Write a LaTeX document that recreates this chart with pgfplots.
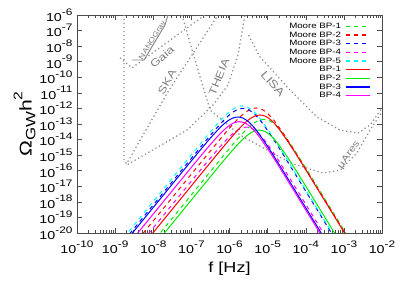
\documentclass[border=0pt]{standalone}
\usepackage{fontspec}
\setmainfont{Liberation Sans}[FakeStretch=1.25]
\usepackage{pgfplots}
\pgfplotsset{compat=1.18}
\definecolor{gcurve}{RGB}{140,140,140}
\definecolor{gtext}{RGB}{125,125,125}
\definecolor{cred}{RGB}{255,0,0}
\definecolor{cgreen}{RGB}{0,235,0}
\definecolor{cblue}{RGB}{0,0,255}
\definecolor{cmag}{RGB}{255,0,255}
\definecolor{ccyan}{RGB}{0,255,255}
\newcommand\ex[1]{10\raisebox{0.55em}{\fontsize{9.5}{9.5}\selectfont #1}}
\begin{document}
\begin{tikzpicture}
\useasboundingbox (-77bp,-48bp) rectangle (325bp,233bp);
\begin{axis}[
  scale only axis, width=305bp, height=218bp, at={(0,0)}, anchor=south west,
  xmin=-10, xmax=-2, ymin=-20, ymax=-6,
  xtick={-10,-9,-8,-7,-6,-5,-4,-3,-2},
  xticklabels={\ex{-10},\ex{-9},\ex{-8},\ex{-7},\ex{-6},\ex{-5},\ex{-4},\ex{-3},\ex{-2}},
  ytick={-20,-19,-18,-17,-16,-15,-14,-13,-12,-11,-10,-9,-8,-7,-6},
  yticklabels={\ex{-20},\ex{-19},\ex{-18},\ex{-17},\ex{-16},\ex{-15},\ex{-14},\ex{-13},\ex{-12},\ex{-11},\ex{-10},\ex{-9},\ex{-8},\ex{-7},\ex{-6}},
  minor xtick={-9.69897,-9.52288,-9.39794,-9.30103,-9.22185,-9.15490,-9.09691,-9.04576,
    -8.69897,-8.52288,-8.39794,-8.30103,-8.22185,-8.15490,-8.09691,-8.04576,
    -7.69897,-7.52288,-7.39794,-7.30103,-7.22185,-7.15490,-7.09691,-7.04576,
    -6.69897,-6.52288,-6.39794,-6.30103,-6.22185,-6.15490,-6.09691,-6.04576,
    -5.69897,-5.52288,-5.39794,-5.30103,-5.22185,-5.15490,-5.09691,-5.04576,
    -4.69897,-4.52288,-4.39794,-4.30103,-4.22185,-4.15490,-4.09691,-4.04576,
    -3.69897,-3.52288,-3.39794,-3.30103,-3.22185,-3.15490,-3.09691,-3.04576,
    -2.69897,-2.52288,-2.39794,-2.30103,-2.22185,-2.15490,-2.09691,-2.04576},
  tick align=inside, major tick length=5bp, minor tick length=3bp,
  axis line style={black!70, line width=0.8pt},
  every tick/.style={black!70, line width=0.5pt},
  ticklabel style={font=\fontsize{11.5}{12}\selectfont},
  xticklabel style={yshift=-4bp},
  yticklabel style={xshift=-1bp},
  xlabel={f [Hz]},
  xlabel style={font=\fontsize{14.5}{14.5}\selectfont, at={(axis description cs:0.5,-0.163)}, anchor=center},
  ylabel={Ω\raisebox{-0.22em}{\fontsize{13.5}{13.5}\selectfont GW}h\raisebox{0.55em}{\fontsize{12.5}{12.5}\selectfont 2}},
  ylabel style={font=\fontsize{17}{17}\selectfont, at={(axis description cs:-0.172,0.5)}, anchor=center},
  legend style={draw=none, fill=none, at={(0.972,0.978)}, anchor=north east,
    font=\fontsize{7.8}{7.8}\selectfont, nodes={inner sep=0.8pt, text height=5.6pt, text depth=1.5pt},
    /tikz/every odd column/.append style={column sep=3bp}},
  legend cell align=right, legend plot pos=right,
  legend image code/.code={\draw[#1, line width=1.4pt] (0bp,0bp) -- (24bp,0bp);},
  clip=true,
]
% --- sensitivity curves (gray) ---
% SKA
\addplot[gcurve, line width=1.25pt, dash pattern=on 1.25bp off 2.75bp, forget plot] coordinates {
 (-8.767,-6) (-8.767,-15.35) (-8.70,-15.55) (-7.587,-10.82) (-6.59,-7.09) (-6.30,-6)};
% Gaia
\addplot[gcurve, line width=1.25pt, dash pattern=on 1.25bp off 2.75bp, forget plot] coordinates {
 (-8.87,-8.75) (-8.557,-9.40) (-7.115,-6.83) (-6.643,-6)};
% THEIA
\addplot[gcurve, line width=1.25pt, dash pattern=on 1.25bp off 2.75bp, forget plot] coordinates {
 (-8.67,-15.60) (-7.115,-13.39) (-6.43,-11.78) (-6.04,-10.5) (-5.777,-8.57) (-5.594,-6.0)};
% muAres
\addplot[gcurve, line width=1.25pt, dash pattern=on 1.25bp off 2.75bp, forget plot] coordinates {
 (-7.246,-6) (-6.905,-8.89) (-6.51,-12.1) (-5.72,-13.71) (-4.413,-15.5) (-3.55,-16.15) (-3.1,-15.96) (-2.656,-14.86) (-2.315,-13.39) (-2.0,-12.23)};
% LISA
\addplot[gcurve, line width=1.25pt, dash pattern=on 1.25bp off 2.75bp, forget plot] coordinates {
 (-5.5,-7.3) (-5.2,-8.7) (-4.413,-10.82) (-3.705,-12.55) (-3.1,-13.39) (-2.63,-13.58) (-2.31,-13.06) (-2.0,-11.97)};
% NANOGrav
\addplot[gcurve, line width=1.0pt, forget plot] coordinates {
 (-8.557,-8.89) (-8.243,-8.89) (-7.692,-6.64) (-7.613,-6.0)};
\node[gtext, rotate=58, font=\fontsize{7}{7}\selectfont] at (axis cs:-8.03,-7.61) {NANOGrav};
\node[gtext, rotate=40, font=\fontsize{10.5}{10.5}\selectfont] at (axis cs:-7.77,-8.70) {Gaia};
\node[gtext, rotate=60, font=\fontsize{10.5}{10.5}\selectfont] at (axis cs:-7.64,-10.30) {SKA};
\node[gtext, rotate=68, font=\fontsize{10.5}{10.5}\selectfont] at (axis cs:-6.275,-9.98) {THEIA};
\node[gtext, rotate=-48, font=\fontsize{11}{11}\selectfont] at (axis cs:-4.86,-10.43) {LISA};
\node[gtext, rotate=55, font=\fontsize{9.5}{9.5}\selectfont] at (axis cs:-2.866,-14.99) {µAres};
% --- Moore templates (dashed) ---
\addplot[cgreen, line width=1pt, dash pattern=on 4bp off 4bp, smooth, tension=0.4] coordinates {
(-8.6,-22.35) (-8.1,-20.85) (-7.6,-19.35) (-7.1,-17.85) (-6.6,-16.35) (-6.35,-15.603) (-6.1,-14.861) (-5.85,-14.135) (-5.6,-13.459) (-5.475,-13.165) (-5.35,-12.923) (-5.225,-12.759) (-5.1,-12.7) (-4.975,-12.763) (-4.85,-12.947) (-4.725,-13.235) (-4.6,-13.602) (-4.35,-14.475) (-4.1,-15.432) (-3.85,-16.419) (-3.6,-17.414) (-3.1,-19.412) (-2.6,-21.412) (-2.1,-23.412)};
\addlegendentry{Moore BP-1}
\addplot[cred, line width=1pt, dash pattern=on 4bp off 4bp, smooth, tension=0.4] coordinates {
(-8.8,-21.62) (-8.3,-20.12) (-7.8,-18.62) (-7.3,-17.12) (-6.8,-15.62) (-6.55,-14.873) (-6.3,-14.131) (-6.05,-13.405) (-5.8,-12.729) (-5.675,-12.435) (-5.55,-12.193) (-5.425,-12.029) (-5.3,-11.97) (-5.175,-12.033) (-5.05,-12.217) (-4.925,-12.505) (-4.8,-12.872) (-4.55,-13.745) (-4.3,-14.702) (-4.05,-15.689) (-3.8,-16.684) (-3.3,-18.682) (-2.8,-20.682) (-2.3,-22.682)};
\addlegendentry{Moore BP-2}
\addplot[cblue, line width=1pt, dash pattern=on 4bp off 4bp, smooth, tension=0.4] coordinates {
(-9.15,-21.65) (-8.65,-20.15) (-8.15,-18.65) (-7.65,-17.15) (-7.15,-15.65) (-6.9,-14.903) (-6.65,-14.161) (-6.4,-13.435) (-6.15,-12.759) (-6.025,-12.465) (-5.9,-12.223) (-5.775,-12.059) (-5.65,-12.0) (-5.525,-12.063) (-5.4,-12.247) (-5.275,-12.535) (-5.15,-12.902) (-4.9,-13.775) (-4.65,-14.732) (-4.4,-15.719) (-4.15,-16.714) (-3.65,-18.712) (-3.15,-20.712) (-2.65,-22.712)};
\addlegendentry{Moore BP-3}
\addplot[cmag, line width=1pt, dash pattern=on 4bp off 4bp, smooth, tension=0.4] coordinates {
(-9.06,-22.85) (-8.56,-21.35) (-8.06,-19.85) (-7.56,-18.35) (-7.06,-16.85) (-6.81,-16.103) (-6.56,-15.361) (-6.31,-14.635) (-6.06,-13.959) (-5.935,-13.665) (-5.81,-13.423) (-5.685,-13.259) (-5.56,-13.2) (-5.435,-13.263) (-5.31,-13.447) (-5.185,-13.735) (-5.06,-14.102) (-4.81,-14.975) (-4.56,-15.932) (-4.31,-16.919) (-4.06,-17.914) (-3.56,-19.912) (-3.06,-21.912) (-2.56,-23.912)};
\addlegendentry{Moore BP-4}
\addplot[ccyan, line width=1pt, dash pattern=on 4bp off 4bp, smooth, tension=0.4] coordinates {
(-9.17,-21.49) (-8.67,-19.99) (-8.17,-18.49) (-7.67,-16.99) (-7.17,-15.49) (-6.92,-14.743) (-6.67,-14.001) (-6.42,-13.275) (-6.17,-12.599) (-6.045,-12.305) (-5.92,-12.063) (-5.795,-11.899) (-5.67,-11.84) (-5.545,-11.903) (-5.42,-12.087) (-5.295,-12.375) (-5.17,-12.742) (-4.92,-13.615) (-4.67,-14.572) (-4.42,-15.559) (-4.17,-16.554) (-3.67,-18.552) (-3.17,-20.552) (-2.67,-22.552)};
\addlegendentry{Moore BP-5}
% --- solid ---
\addplot[cred, line width=1pt, smooth, tension=0.4] coordinates {
(-8.7,-22.07) (-8.2,-20.57) (-7.7,-19.07) (-7.2,-17.57) (-6.7,-16.07) (-6.45,-15.323) (-6.2,-14.581) (-5.95,-13.855) (-5.7,-13.179) (-5.575,-12.885) (-5.45,-12.643) (-5.325,-12.479) (-5.2,-12.42) (-5.075,-12.483) (-4.95,-12.667) (-4.825,-12.955) (-4.7,-13.322) (-4.45,-14.195) (-4.2,-15.152) (-3.95,-16.139) (-3.7,-17.134) (-3.2,-19.132) (-2.7,-21.132) (-2.2,-23.132)};
\addlegendentry{BP-1}
\addplot[cgreen, line width=1pt, smooth, tension=0.4] coordinates {
(-8.72,-23.04) (-8.22,-21.54) (-7.72,-20.04) (-7.22,-18.54) (-6.72,-17.04) (-6.47,-16.293) (-6.22,-15.551) (-5.97,-14.825) (-5.72,-14.149) (-5.595,-13.855) (-5.47,-13.613) (-5.345,-13.449) (-5.22,-13.39) (-5.095,-13.453) (-4.97,-13.637) (-4.845,-13.925) (-4.72,-14.292) (-4.47,-15.165) (-4.22,-16.122) (-3.97,-17.109) (-3.72,-18.104) (-3.22,-20.102) (-2.72,-22.102) (-2.22,-24.102)};
\addlegendentry{BP-2}
\addplot[cblue, line width=1pt, smooth, tension=0.4] coordinates {
(-9.28,-22.2) (-8.78,-20.7) (-8.28,-19.2) (-7.78,-17.7) (-7.28,-16.2) (-7.03,-15.453) (-6.78,-14.711) (-6.53,-13.985) (-6.28,-13.309) (-6.155,-13.015) (-6.03,-12.773) (-5.905,-12.609) (-5.78,-12.55) (-5.655,-12.613) (-5.53,-12.797) (-5.405,-13.085) (-5.28,-13.452) (-5.03,-14.325) (-4.78,-15.282) (-4.53,-16.269) (-4.28,-17.264) (-3.78,-19.262) (-3.28,-21.262) (-2.78,-23.262)};
\addlegendentry{BP-3}
\addplot[cmag, line width=1pt, smooth, tension=0.4] coordinates {
(-9.24,-22.5) (-8.74,-21.0) (-8.24,-19.5) (-7.74,-18.0) (-7.24,-16.5) (-6.99,-15.753) (-6.74,-15.011) (-6.49,-14.285) (-6.24,-13.609) (-6.115,-13.315) (-5.99,-13.073) (-5.865,-12.909) (-5.74,-12.85) (-5.615,-12.913) (-5.49,-13.097) (-5.365,-13.385) (-5.24,-13.752) (-4.99,-14.625) (-4.74,-15.582) (-4.49,-16.569) (-4.24,-17.564) (-3.74,-19.562) (-3.24,-21.562) (-2.74,-23.562)};
\addlegendentry{BP-4}
\end{axis}
\end{tikzpicture}
\end{document}
